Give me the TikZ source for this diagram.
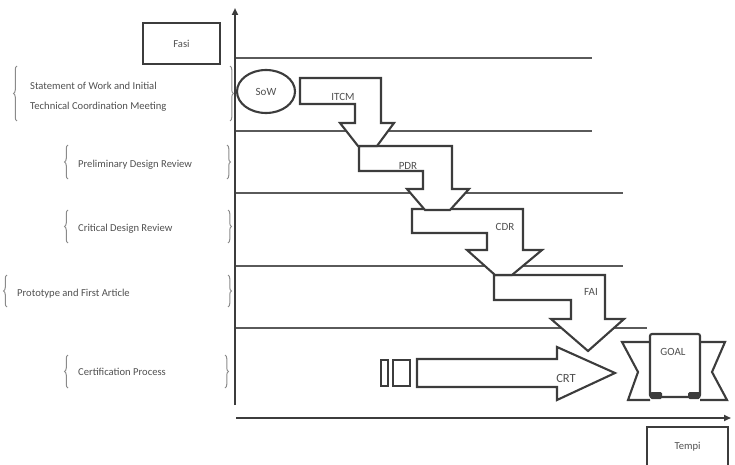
\documentclass[tikz,border=0pt]{standalone}
\usepackage{fontspec}
\setmainfont{Carlito}
\usetikzlibrary{arrows.meta,decorations.pathreplacing}
\definecolor{ink}{HTML}{3C3C3C}
\definecolor{txt}{HTML}{505050}
\definecolor{rule}{HTML}{5A5A5A}
\definecolor{brc}{HTML}{8A8A8A}
\begin{document}
\begin{tikzpicture}[x=1pt,y=-1pt,
  lbl/.style={text=txt,font=\fontsize{10.6}{20}\selectfont,inner sep=0pt},
  albl/.style={text=txt,font=\fontsize{11}{12}\selectfont,inner sep=0pt},
  shp/.style={draw=ink,line width=2.1pt,fill=white,line join=miter},
  sep/.style={draw=rule,line width=1.5pt},
  axis/.style={draw=ink,line width=2pt,-{Triangle[length=7pt,width=6pt]}},
  brl/.style={draw=brc,line width=1pt,decorate,decoration={brace,amplitude=3.5pt}},
  tbox/.style={draw=ink,line width=1.5pt}]
\useasboundingbox (0,0) rectangle (735,465);
% separators
\draw[sep] (235,58) -- (592,58);
\draw[sep] (235,131) -- (592,131);
\draw[sep] (235,193) -- (623,193);
\draw[sep] (235,266) -- (623,266);
\draw[sep] (235,328) -- (647,328);
% axes
\coordinate (o1) at (235,405);
\coordinate (ytip) at (235,8);
\coordinate (o2) at (236,418);
\coordinate (xtip) at (731,418);
\draw[axis] (o1) -- (ytip);
\draw[axis] (o2) -- (xtip);
% Fasi / Tempi boxes
\draw[tbox] (143,23) rectangle (220,64);
\node[lbl] (fasi) at (181.5,43.5) {Fasi};
\draw[tbox] (647,470) -- (647,427) -- (728,427) -- (728,470);
\node[lbl] (tempi) at (687.5,447) {Tempi};
% phase labels with braces
\node[lbl,anchor=west,align=left] (sow) at (30,97) {Statement of Work and Initial\\Technical Coordination Meeting};
\draw[brl] (17,121) -- (17,66);
\draw[brl] (230,66) -- (230,121);
\node[lbl,anchor=west] (pdr) at (78,165) {Preliminary Design Review};
\draw[brl] (68,179) -- (68,145);
\draw[brl] (227,145) -- (227,179);
\node[lbl,anchor=west] (cdr) at (78,229) {Critical Design Review};
\draw[brl] (68,243) -- (68,210);
\draw[brl] (228,210) -- (228,243);
\node[lbl,anchor=west] (fai) at (17,294) {Prototype and First Article};
\draw[brl] (7,307) -- (7,275);
\draw[brl] (228,275) -- (228,307);
\node[lbl,anchor=west] (crt) at (78,372) {Certification Process};
\draw[brl] (68,388) -- (68,355);
\draw[brl] (225,355) -- (225,388);
% SoW ellipse
\draw[shp] (266,91.5) ellipse [x radius=29,y radius=21.5];
\node[albl] (sowl) at (266,91.5) {SoW};
% FAI arrow
\draw[shp] (494,275) -- (605,275) -- (605,319) -- (624,319) -- (588,351) -- (551,319) -- (571,319) -- (571,300) -- (494,300) -- cycle;
\node[albl] (fail) at (591,292) {FAI};
% CDR arrow
\draw[shp] (412,209) -- (523,209) -- (523,250) -- (542,250) -- (512,275) -- (495,275) -- (467,250) -- (487,250) -- (487,233) -- (412,233) -- cycle;
\node[albl] (cdrl) at (505,227) {CDR};
% PDR arrow
\draw[shp] (359,146) -- (452,146) -- (452,189) -- (469,189) -- (450,210) -- (425,210) -- (407,189) -- (423,189) -- (423,171) -- (359,171) -- cycle;
\node[albl] (pdrl) at (408,166) {PDR};
% ITCM arrow
\draw[shp] (300,78) -- (381,78) -- (381,123) -- (394,123) -- (377,146) -- (358,146) -- (340,123) -- (355,123) -- (355,104) -- (300,104) -- cycle;
\node[albl] (itcml) at (343,97) {ITCM};
% CRT
\draw[shp,line width=1.6pt] (381,360) rectangle (388,386);
\draw[shp,line width=1.6pt] (393,360) rectangle (410,386);
\draw[shp] (417,359) -- (557,359) -- (557,347) -- (615,373) -- (557,400) -- (557,387) -- (417,387) -- cycle;
\node[albl,font=\fontsize{12.5}{14}\selectfont] (crtl) at (566,378) {CRT};
% GOAL
\draw[shp] (650,342) -- (622,342) -- (638,372) -- (628,400) -- (650,400);
\draw[shp] (700,342) -- (725,342) -- (712,372) -- (727,400) -- (700,400);
\draw[shp,rounded corners=2pt] (650,334) rectangle (700,397);
\fill[ink,rounded corners=1.5pt] (650,392) rectangle (662,399);
\fill[ink,rounded corners=1.5pt] (688,392) rectangle (700,399);
\node[albl] (goal) at (673,352) {GOAL};
\end{tikzpicture}
\end{document}
